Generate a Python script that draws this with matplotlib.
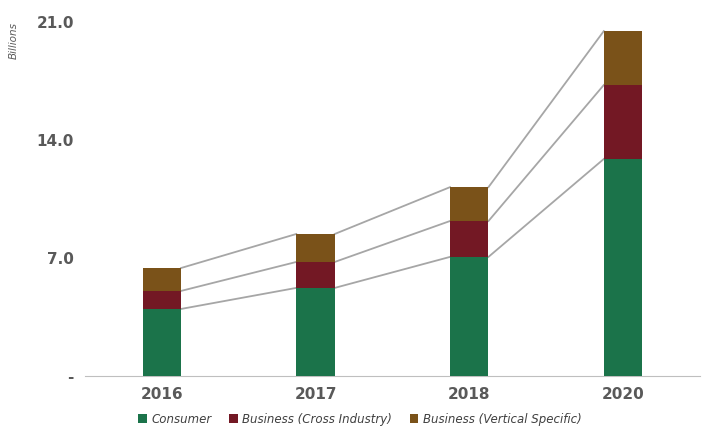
import matplotlib
matplotlib.use("Agg")
import matplotlib.pyplot as plt
import numpy as np

years = ["2016", "2017", "2018", "2020"]
consumer = [3.97, 5.22, 7.06, 12.87]
cross = [1.07, 1.54, 2.13, 4.39]
vertical = [1.36, 1.66, 2.01, 3.2]
series_names = ["Consumer", "Business (Cross Industry)", "Business (Vertical Specific)"]
colors = ["#1b734a", "#731824", "#7a5219"]
yticks = [0, 7, 14, 21]
ytick_labels = ["-", "7.0", "14.0", "21.0"]

fig = plt.figure(figsize=(7.2, 4.32), dpi=100)
ax = fig.add_axes([0.118, 0.13, 0.854, 0.819])
x = np.arange(len(years))
w = 0.25
b1 = np.array(consumer)
b2 = b1 + np.array(cross)
b3 = b2 + np.array(vertical)
ax.bar(x, consumer, w, color=colors[0], label=series_names[0], zorder=3)
ax.bar(x, cross, w, bottom=b1, color=colors[1], label=series_names[1], zorder=3)
ax.bar(x, vertical, w, bottom=b2, color=colors[2], label=series_names[2], zorder=3)
for tops in (b1, b2, b3):
    for i in range(len(x) - 1):
        ax.plot([x[i] + w / 2, x[i + 1] - w / 2], [tops[i], tops[i + 1]],
                color="#a6a6a6", lw=1.3, zorder=2)
ax.set_xlim(-0.5, 3.5)
ax.set_ylim(0, 21)
ax.set_xticks(x)
ax.set_xticklabels(years, fontsize=11, fontweight="bold", color="#595959")
ax.set_yticks(yticks)
ax.set_yticklabels(ytick_labels, fontsize=11, fontweight="bold", color="#595959")
ax.tick_params(length=0, pad=8)
for s in ["top", "right", "left"]:
    ax.spines[s].set_visible(False)
ax.spines["bottom"].set_color("#bfbfbf")
fig.text(0.012, 0.95, "Billions", rotation=90, fontsize=7.5, style="italic",
         color="#595959", va="top")
fig.legend(loc="lower center", bbox_to_anchor=(0.5, -0.01), ncol=3, frameon=False,
           prop={"size": 8.5, "style": "italic"}, handlelength=0.7, handleheight=0.7,
           columnspacing=1.5, handletextpad=0.4, labelcolor="#404040")
fig.savefig("out.png", dpi=100)
